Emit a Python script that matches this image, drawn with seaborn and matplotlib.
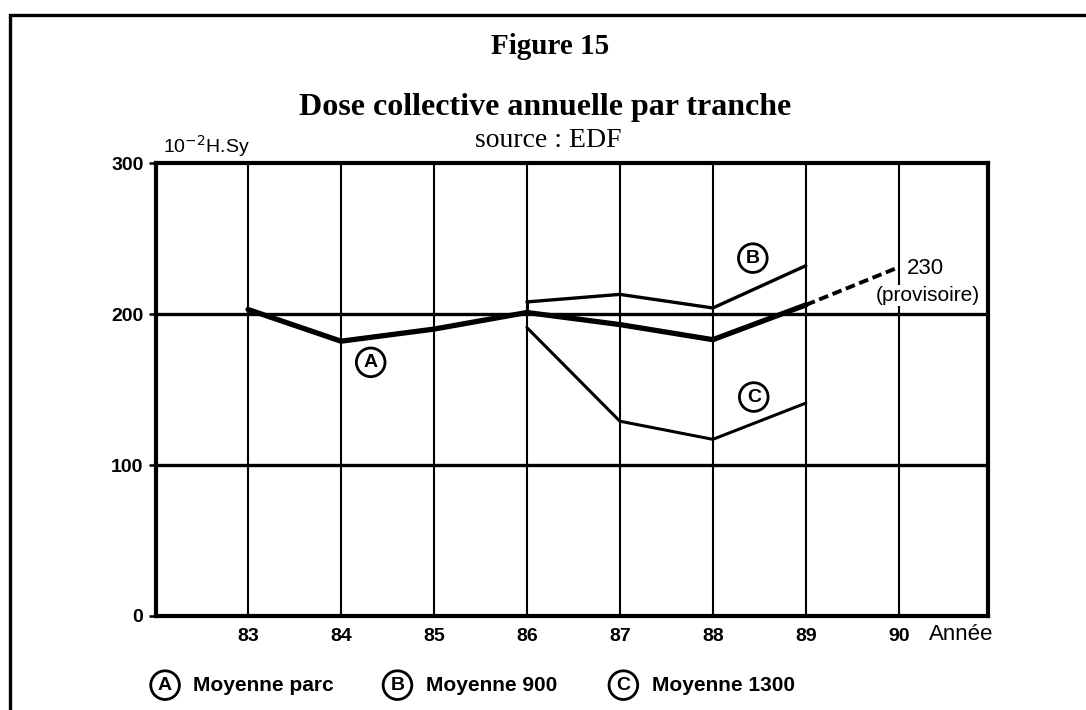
import matplotlib
matplotlib.use("Agg")
import matplotlib.pyplot as plt
import seaborn as sns
import pandas as pd
from matplotlib.patches import Rectangle

# ---- data ----
years_a = [83, 84, 85, 86, 87, 88, 89]
moyenne_parc = [203, 182, 190, 201, 193, 183, 206]
years_b = [86, 87, 88, 89]
moyenne_900 = [208, 213, 204, 232]
years_c = [86, 87, 88, 89]
moyenne_1300 = [191, 129, 117, 141]
years_prov = [89, 90]
provisoire = [206, 231]
x_ticks = [83, 84, 85, 86, 87, 88, 89, 90]
y_ticks = [0, 100, 200, 300]

sns.set_theme(style="white")
plt.rcParams["font.family"] = ["Liberation Sans", "DejaVu Sans"]
plt.rcParams["text.color"] = "black"
plt.rcParams["xtick.color"] = "black"
plt.rcParams["ytick.color"] = "black"
plt.rcParams["xtick.labelcolor"] = "black"
plt.rcParams["ytick.labelcolor"] = "black"
SERIF = ["Liberation Serif", "DejaVu Serif"]

fig = plt.figure(figsize=(10.86, 7.10), dpi=100)
ax = fig.add_axes([0.1436, 0.1324, 0.7662, 0.638])

df_a = pd.DataFrame({"x": years_a, "y": moyenne_parc})
df_b = pd.DataFrame({"x": years_b, "y": moyenne_900})
df_c = pd.DataFrame({"x": years_c, "y": moyenne_1300})
df_p = pd.DataFrame({"x": years_prov, "y": provisoire})

sns.lineplot(data=df_a, x="x", y="y", ax=ax, color="black", linewidth=3.8, zorder=5)
sns.lineplot(data=df_b, x="x", y="y", ax=ax, color="black", linewidth=2.4, zorder=5)
sns.lineplot(data=df_c, x="x", y="y", ax=ax, color="black", linewidth=2.2, zorder=5)
sns.lineplot(data=df_p, x="x", y="y", ax=ax, color="black", linewidth=2.8,
             linestyle=(0, (2.5, 1.2)), zorder=5)

ax.set_xlim(82.01, 90.96)
ax.set_ylim(0, 300)
for yv in [100, 200]:
    ax.axhline(yv, color="black", linewidth=2.4, zorder=2)
for xv in x_ticks:
    ax.axvline(xv, color="black", linewidth=1.5, zorder=2)
ax.axvline(86, ymin=200/300, ymax=208/300, color="black", linewidth=2.2, zorder=3)

for s in ax.spines.values():
    s.set_color("black")
    s.set_linewidth(3.0)
ax.set_xticks(x_ticks)
ax.set_xticklabels([str(v) for v in x_ticks], fontsize=14, fontweight="bold", color="black")
ax.set_yticks(y_ticks)
ax.set_yticklabels([str(v) for v in y_ticks], fontsize=14, fontweight="bold", color="black")
ax.tick_params(axis="x", length=0, pad=9)
ax.tick_params(axis="y", length=5, width=1.8, left=True, pad=4)
ax.set_xlabel("")
ax.set_ylabel("")
ax.grid(False)

circ = dict(boxstyle="circle,pad=0.3", fc="white", ec="black", lw=2.0)
ax.text(84.32, 168, "A", ha="center", va="center", fontsize=14, fontweight="bold", bbox=circ, zorder=6)
ax.text(88.43, 237, "B", ha="center", va="center", fontsize=14, fontweight="bold", bbox=circ, zorder=6)
ax.text(88.44, 145, "C", ha="center", va="center", fontsize=14, fontweight="bold", bbox=circ, zorder=6)
ax.text(90.09, 230, "230", ha="left", va="center", fontsize=16, zorder=6)
ax.text(90.87, 212, "(provisoire)", ha="right", va="center", fontsize=15, zorder=6,
        bbox=dict(boxstyle="square,pad=0.05", fc="white", ec="none"))
ax.text(90.32, -12, "Année", ha="left", va="center", fontsize=16, clip_on=False)

# figure texts
fig.text(0.507, 0.935, "Figure 15", ha="center", va="center", fontsize=21,
         fontweight="bold", family=SERIF)
fig.text(0.502, 0.848, "Dose collective annuelle par tranche", ha="center", va="center",
         fontsize=23, fontweight="bold", family=SERIF)
fig.text(0.505, 0.802, "source : EDF", ha="center", va="center", fontsize=20,
         family=SERIF)
fig.text(0.150, 0.794, r"10$^{-2}$H.Sy", ha="left", va="center", fontsize=14)

# legend
leg_items = [("A", "Moyenne parc", 0.152), ("B", "Moyenne 900", 0.366), ("C", "Moyenne 1300", 0.574)]
for letter, label, xpos in leg_items:
    fig.text(xpos, 0.035, letter, ha="center", va="center", fontsize=14, fontweight="bold", bbox=circ)
    fig.text(xpos + 0.026, 0.035, label, ha="left", va="center", fontsize=15, fontweight="bold")

fig.patches.append(Rectangle((0.009, -0.05), 1.1, 1.029, transform=fig.transFigure,
                             fill=False, ec="black", lw=2.4))

fig.savefig("out.png", dpi=100, facecolor="white")
